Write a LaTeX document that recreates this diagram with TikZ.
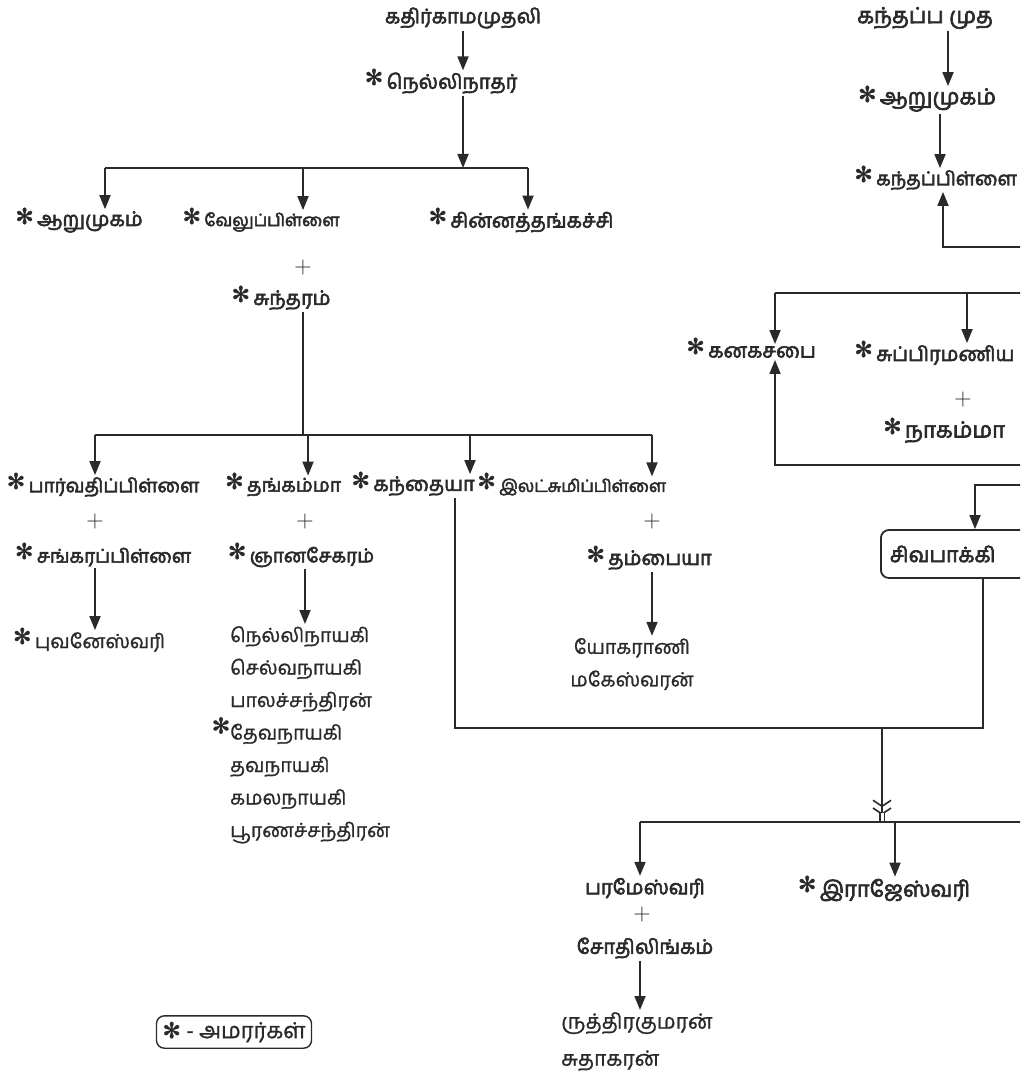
\documentclass[tikz,border=0pt]{standalone}
\usepackage{fontspec}
\newfontfamily\tamf[Script=Tamil,FakeBold=1.2]{Hind Madurai}
\newfontfamily\tamb[Script=Tamil,FakeBold=3]{Hind Madurai}
\newfontfamily\symf[FakeBold=1]{DejaVu Sans}
\usetikzlibrary{arrows.meta,positioning}
\definecolor{ink}{HTML}{2A2A2A}

\begin{document}
\begin{tikzpicture}[x=1pt,y=-1pt,
  person/.style={font=\tamb\fontsize{20}{22}\selectfont,text=ink,inner sep=2pt},
  bigperson/.style={font=\tamb\fontsize{22}{24}\selectfont,text=ink,inner sep=2pt},
  plainperson/.style={font=\tamf\fontsize{19.5}{32.5}\selectfont,text=ink,inner sep=2pt,align=left},
  amarar/.style={label={[font=\symf\fontsize{22}{22}\selectfont,text=ink,inner sep=0pt,xshift=-1pt,yshift=6pt]left:✻}},
  plussign/.style={font=\fontsize{24}{24}\selectfont,text=ink,inner sep=0pt},
  arr/.style={draw=ink,line width=1.8pt,-{Triangle[length=14pt,width=11pt]}},
  bar/.style={draw=ink,line width=2.6pt},
  twin/.style={draw=ink,line width=2pt,-{Straight Barb[length=6pt,width=18pt,line width=1.6pt]Straight Barb[length=6pt,width=18pt,line width=1.6pt]}}]

\useasboundingbox (0,0) rectangle (1020,1086);
\clip (0,0) rectangle (1020,1086);

% left family
\node[person] (kathir) at (463,18) {கதிர்காமமுதலி};
\node[person,amarar] (nelli) at (452,83) {நெல்லிநாதர்};
\coordinate (j1) at (463,168);
\coordinate (jA) at (105,168);
\coordinate (jB) at (303,168);
\coordinate (jC) at (528,168);

\node[person,amarar] (arumugamA) at (90,222) {ஆறுமுகம்};
\node[person,amarar,font=\tamb\fontsize{17}{20}\selectfont] (velu) at (272,222) {வேலுப்பிள்ளை};
\node[person,amarar] (chinna) at (532,222) {சின்னத்தங்கச்சி};
\node[plussign] (plusA) at (303,268) {+};
\node[person,amarar] (sunth) at (292,300) {சுந்தரம்};

\draw[arr] (kathir.south -| j1) -- (nelli.north -| j1);
\draw[arr] (nelli.south -| j1) -- (j1);
\draw[bar] (jA) -- (jC);
\draw[arr] (jA) -- (jA |- arumugamA.north);
\draw[arr] (jB) -- (jB |- velu.north);
\draw[arr] (jC) -- (jC |- chinna.north);

\coordinate (j2) at (303,435);
\coordinate (kA) at (95,435);
\coordinate (kB) at (308,435);
\coordinate (kC) at (470,435);
\coordinate (kD) at (652,435);
\draw[bar] (sunth.south -| j2) -- (j2);
\draw[bar] (kA) -- (kD);

\node[person,amarar,font=\tamb\fontsize{19}{22}\selectfont] (parvathi) at (114,487) {பார்வதிப்பிள்ளை};
\node[person,amarar,font=\tamb\fontsize{19}{22}\selectfont] (thangam) at (294,487) {தங்கம்மா};
\node[person,amarar,font=\tamb\fontsize{20}{22}\selectfont] (kandaiya) at (424,486) {கந்தையா};
\node[person,amarar,anchor=west,font=\tamb\fontsize{17}{20}\selectfont] (ilatchumi) at (497,487) {இலட்சுமிப்பிள்ளை};
\draw[arr] (kA) -- (kA |- parvathi.north);
\draw[arr] (kB) -- (kB |- thangam.north);
\draw[arr] (kC) -- (kC |- kandaiya.north);
\draw[arr] (kD) -- (kD |- ilatchumi.north);

\node[plussign] (plusB) at (95,522) {+};
\node[plussign] (plusC) at (305,522) {+};
\node[plussign] (plusD) at (652,522) {+};
\node[person,amarar,font=\tamb\fontsize{19}{22}\selectfont] (sankar) at (114,557) {சங்கரப்பிள்ளை};
\node[person,amarar,font=\tamb\fontsize{19}{22}\selectfont] (gnana) at (312,557) {ஞானசேகரம்};
\node[person,amarar] (thambaiya) at (660,560) {தம்பையா};

\node[plainperson,amarar] (puvan) at (100,642) {புவனேஸ்வரி};
\node[plainperson,anchor=north west] (gnanakids) at (228,624)
  {நெல்லிநாயகி\\செல்வநாயகி\\பாலச்சந்திரன்\\\llap{\symf\fontsize{22}{22}\selectfont\raisebox{6pt}{✻}}தேவநாயகி\\தவநாயகி\\கமலநாயகி\\பூரணச்சந்திரன்};
\node[plainperson,align=center] (yoga) at (632,664) {யோகராணி\\மகேஸ்வரன்};
\draw[arr] (sankar.south -| plusB) -- (puvan.north -| plusB);
\draw[arr] (gnana.south -| plusC) -- (gnanakids.north -| plusC);
\draw[arr] (thambaiya.south -| plusD) -- (yoga.north -| plusD);

% right family (cut by the page edge)
\node[bigperson,anchor=west] (kanthappa) at (855,18) {கந்தப்ப முத};
\node[bigperson,amarar] (arumugamB) at (938,100) {ஆறுமுகம்};
\node[person,amarar,anchor=west,font=\tamb\fontsize{19}{22}\selectfont] (kanthapillai) at (874,180) {கந்தப்பிள்ளை};
\draw[arr] (kanthappa.south -| 948,0) -- (arumugamB.north -| 948,0);
\draw[arr] (arumugamB.south -| 940,0) -- (kanthapillai.north -| 940,0);
\coordinate (kpc) at (943,247);
\coordinate (kpr) at (1030,247);
\draw[arr] (kpr) -- (kpc) -- (kpc |- kanthapillai.south);

\coordinate (sbL) at (775,293);
\coordinate (sbM) at (967,293);
\coordinate (sbR) at (1030,293);
\node[person,amarar] (kanaga) at (762,352) {கனகசபை};
\node[person,amarar,anchor=west] (subra) at (874,355) {சுப்பிரமணிய};
\node[plussign] (plusE) at (963,400) {+};
\node[bigperson,amarar] (nagamma) at (955,432) {நாகம்மா};
\draw[bar] (sbL) -- (sbR);
\draw[arr] (sbL) -- (sbL |- kanaga.north);
\draw[arr] (sbM) -- (sbM |- subra.north);
\coordinate (kgc) at (775,465);
\coordinate (kgr) at (1030,465);
\draw[arr] (kgr) -- (kgc) -- (kgc |- kanaga.south);

\node[draw=ink,line width=1.8pt,rounded corners=8pt,anchor=west,minimum height=48pt,
  text width=170pt,inner xsep=9pt,font=\tamb\fontsize{21}{24}\selectfont,text=ink] (sivapakki) at (880,554) {சிவபாக்கி};
\coordinate (spc) at (975,485);
\coordinate (spr) at (1030,485);
\draw[arr] (spr) -- (spc) -- (spc |- sivapakki.north);

% children of kandaiya and sivapakki
\coordinate (kbend) at (455,728);
\coordinate (sbend) at (983,728);
\coordinate (mid) at (882,728);
\coordinate (split) at (882,822);
\draw[bar] (kandaiya.south -| kbend) -- (kbend) -- (sbend) -- (sbend |- sivapakki.south);
\draw[twin] (mid) -- ([yshift=7pt]split);
\draw[draw=ink,line width=1.2pt,double,double distance=3pt] ([yshift=9pt]split) -- (split);

\node[person] (parames) at (645,888) {பரமேஸ்வரி};
\node[plussign] (plusF) at (642,915) {+};
\node[person] (sothi) at (645,948) {சோதிலிங்கம்};
\node[plainperson,anchor=north west,font=\tamf\fontsize{21}{37}\selectfont] (ruthra) at (559,1010) {ருத்திரகுமரன்\\சுதாகரன்};
\node[bigperson,amarar] (rajes) at (895,890) {இராஜேஸ்வரி};
\coordinate (cbR) at (1030,822);
\draw[bar] (split -| 640,0) -- (cbR);
\draw[arr] (split -| 640,0) -- (parames.north -| 640,0);
\draw[arr] (split -| 895,0) -- (rajes.north -| 895,0);
\draw[arr] (sothi.south -| 640,0) -- (ruthra.north -| 640,0);

% legend
\node[draw=ink,line width=1.4pt,rounded corners=8pt,inner sep=6pt,font=\tamf\fontsize{22}{24}\selectfont,text=ink] (legend) at (234,1032) {{\symf ✻} - அமரர்கள்};

\end{tikzpicture}
\end{document}
